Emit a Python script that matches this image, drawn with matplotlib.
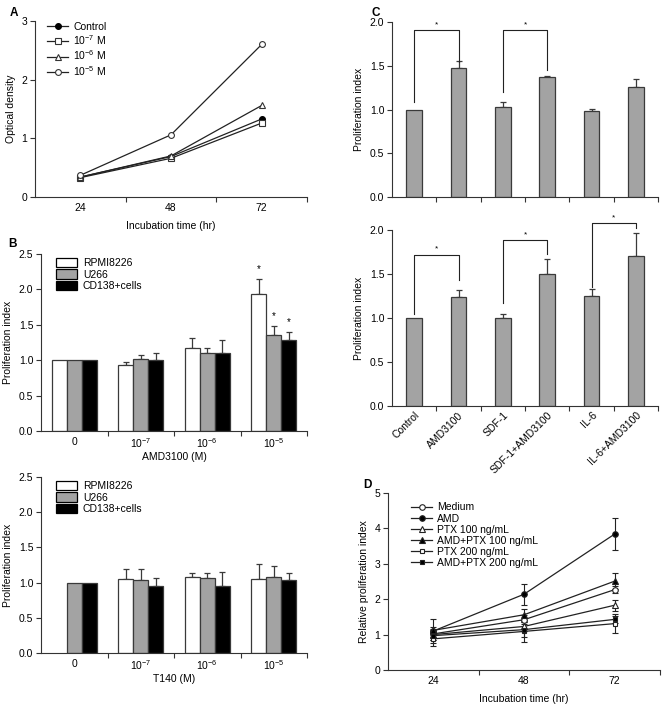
import matplotlib
matplotlib.use("Agg")
import matplotlib.pyplot as plt
import numpy as np
from matplotlib.lines import Line2D
from matplotlib.patches import Patch

plt.rcParams['font.family'] = ['Liberation Sans', 'DejaVu Sans']
plt.rcParams['mathtext.fontset'] = 'custom'
plt.rcParams['mathtext.rm'] = 'Liberation Sans'
plt.rcParams['mathtext.it'] = 'Liberation Sans:italic'
plt.rcParams['mathtext.bf'] = 'Liberation Sans:bold'
plt.rcParams['font.size'] = 7.5

# ---------------- data ----------------
# Panel A
a_times = ['24', '48', '72']
a_labels = ['Control', r'10$^{-7}$ M', r'10$^{-6}$ M', r'10$^{-5}$ M']
a_control = [0.34, 0.69, 1.33]
a_e7 = [0.33, 0.66, 1.26]
a_e6 = [0.34, 0.70, 1.56]
a_e5 = [0.37, 1.06, 2.60]

# Panel B (AMD3100)
b_conc = ['0', r'10$^{-7}$', r'10$^{-6}$', r'10$^{-5}$']
b_series = ['RPMI8226', 'U266', 'CD138+cells']
b_rpmi = [1.00, 0.93, 1.17, 1.94]
b_rpmi_err = [0.0, 0.05, 0.14, 0.21]
b_u266 = [1.00, 1.02, 1.10, 1.35]
b_u266_err = [0.0, 0.05, 0.07, 0.13]
b_cd138 = [1.00, 1.00, 1.10, 1.29]
b_cd138_err = [0.0, 0.10, 0.19, 0.11]
b_sig = [False, False, False, True]

# Panel B lower (T140)
t_rpmi = [np.nan, 1.05, 1.08, 1.05]
t_rpmi_err = [0.0, 0.14, 0.06, 0.21]
t_u266 = [1.00, 1.04, 1.07, 1.08]
t_u266_err = [0.0, 0.15, 0.06, 0.15]
t_cd138 = [1.00, 0.95, 0.95, 1.03]
t_cd138_err = [0.0, 0.11, 0.20, 0.10]

# Panel C
c_cats = ['Control', 'AMD3100', 'SDF-1', 'SDF-1+AMD3100', 'IL-6', 'IL-6+AMD3100']
c1_vals = [1.00, 1.48, 1.03, 1.37, 0.98, 1.26]
c1_err = [0.0, 0.08, 0.06, 0.015, 0.03, 0.09]
c1_brackets = [(0, 1, 1.91, 1.09, 1.54), (2, 3, 1.91, 1.20, 1.45)]
c2_vals = [1.00, 1.24, 1.00, 1.50, 1.25, 1.71]
c2_err = [0.0, 0.08, 0.05, 0.17, 0.08, 0.26]
c2_brackets = [(0, 1, 1.72, 1.05, 1.43), (2, 3, 1.89, 1.17, 1.73), (4, 5, 2.08, 1.35, 2.02)]

# Panel D
d_times = ['24', '48', '72']
d_labels = ['Medium', 'AMD', 'PTX 100 ng/mL', 'AMD+PTX 100 ng/mL', 'PTX 200 ng/mL', 'AMD+PTX 200 ng/mL']
d_medium = [1.02, 1.42, 2.27]
d_medium_err = [0.10, 0.12, 0.10]
d_amd = [1.10, 2.14, 3.84]
d_amd_err = [0.33, 0.29, 0.44]
d_ptx100 = [1.00, 1.23, 1.83]
d_ptx100_err = [0.15, 0.12, 0.16]
d_amdptx100 = [1.12, 1.56, 2.51]
d_amdptx100_err = [0.10, 0.16, 0.23]
d_ptx200 = [0.88, 1.09, 1.31]
d_ptx200_err = [0.20, 0.30, 0.26]
d_amdptx200 = [0.97, 1.14, 1.43]
d_amdptx200_err = [0.12, 0.22, 0.10]

# ---------------- layout ----------------
W, H = 665, 706
fig = plt.figure(figsize=(W / 100, H / 100), dpi=100)

def add_ax(l, r, t, b):
    return fig.add_axes([l / W, 1 - b / H, (r - l) / W, (b - t) / H])

SP = '#333333'
EDGE = '#3a3a3a'
GRAY = '#a3a3a3'

def style(ax, n):
    for s in ['top', 'right']:
        ax.spines[s].set_visible(False)
    for s in ['left', 'bottom']:
        ax.spines[s].set_color(SP)
        ax.spines[s].set_linewidth(0.8)
    ax.set_xlim(-0.5, n - 0.5)
    ax.set_xticks(np.arange(n) + 0.5)
    ax.set_xticklabels([])
    ax.tick_params(axis='x', which='major', length=3.5, width=0.8, color=SP, direction='out')
    ax.tick_params(axis='y', length=3.5, width=0.8, color=SP, direction='out', labelsize=7.5, pad=2)
    ax.set_xticks(np.arange(n), minor=True)
    ax.tick_params(axis='x', which='minor', length=0, labelsize=7.5, pad=4)

# Panel A
axA = add_ax(35, 307, 21, 197)
style(axA, 3)
x = np.arange(3)
kw = dict(color='#222222', lw=0.9, markersize=4.2, markeredgewidth=0.8)
axA.plot(x, a_control, marker='o', mfc='black', mec='black', **kw)
axA.plot(x, a_e7, marker='s', mfc='white', mec='#333333', **dict(kw, markersize=3.8))
axA.plot(x, a_e6, marker='^', mfc='white', mec='#333333', **kw)
axA.plot(x, a_e5, marker='o', mfc='white', mec='#333333', **kw)
axA.set_ylim(0, 3)
axA.set_yticks([0, 1, 2, 3])
axA.set_xticklabels(a_times, minor=True)
axA.set_ylabel('Optical density', fontsize=7.5, labelpad=4)
axA.set_xlabel('Incubation time (hr)', fontsize=7.5, labelpad=6)
handles = [Line2D([], [], marker='o', mfc='black', mec='black', **kw),
           Line2D([], [], marker='s', mfc='white', mec='#333333', **dict(kw, markersize=3.8)),
           Line2D([], [], marker='^', mfc='white', mec='#333333', **kw),
           Line2D([], [], marker='o', mfc='white', mec='#333333', **kw)]
axA.legend(handles, a_labels, loc='upper left', bbox_to_anchor=(0.03, 1.02), frameon=False,
           fontsize=7.5, handlelength=2.0, handletextpad=0.5, labelspacing=0.15, borderaxespad=0)

# Panel B bar helper
def bar_panel(ax, r, re, u, ue, c, ce, xlabel, sig=None):
    style(ax, 4)
    xs = np.arange(4)
    w = 0.227
    ekw = dict(ecolor=EDGE, elinewidth=0.9, capsize=2.5, capthick=0.9)
    for off, vals, errs, col in [(-w, r, re, 'white'), (0, u, ue, GRAY), (w, c, ce, 'black')]:
        vals = np.array(vals, dtype=float)
        errs = np.array(errs, dtype=float)
        ok = ~np.isnan(vals)
        ax.bar(xs[ok] + off, vals[ok], width=w, color=col, edgecolor=EDGE, linewidth=0.9, zorder=2)
        has = ok & (errs > 0)
        ax.errorbar(xs[has] + off, vals[has], yerr=[np.zeros(has.sum()), errs[has]], fmt='none', zorder=1, **ekw)
        if sig is not None:
            for i in range(4):
                if sig[i]:
                    ax.text(xs[i] + off, vals[i] + errs[i] + 0.07, '*', ha='center', va='bottom', fontsize=7)
    ax.set_ylim(0, 2.5)
    ax.set_yticks([0, 0.5, 1.0, 1.5, 2.0, 2.5])
    ax.set_yticklabels(['0.0', '0.5', '1.0', '1.5', '2.0', '2.5'])
    ax.set_xticklabels(b_conc, minor=True)
    ax.set_ylabel('Proliferation index', fontsize=7.5, labelpad=4)
    ax.set_xlabel(xlabel, fontsize=7.5, labelpad=1)
    hs = [Patch(facecolor=cc, edgecolor='black', linewidth=0.9) for cc in ['white', GRAY, 'black']]
    ax.legend(hs, b_series, loc='upper left', bbox_to_anchor=(0.04, 1.0), frameon=False, fontsize=7.5,
              handlelength=2.0, handleheight=1.0, handletextpad=0.6, labelspacing=0.1, borderaxespad=0)

axB1 = add_ax(41, 307, 254, 431)
bar_panel(axB1, b_rpmi, b_rpmi_err, b_u266, b_u266_err, b_cd138, b_cd138_err, 'AMD3100 (M)', sig=b_sig)
axB2 = add_ax(41, 307, 477, 653)
bar_panel(axB2, t_rpmi, t_rpmi_err, t_u266, t_u266_err, t_cd138, t_cd138_err, 'T140 (M)')

# Panel C
def c_panel(ax, vals, errs, brackets, labels):
    style(ax, 6)
    xs = np.arange(6)
    errs = np.array(errs)
    ax.bar(xs, vals, width=0.35, color=GRAY, edgecolor=EDGE, linewidth=0.9, zorder=2)
    has = errs > 0
    ax.errorbar(xs[has], np.array(vals)[has], yerr=[np.zeros(has.sum()), errs[has]], fmt='none',
                ecolor=EDGE, elinewidth=0.9, capsize=2.5, capthick=0.9, zorder=1)
    for i, j, top, lb, rb in brackets:
        ax.plot([i, i, j, j], [lb, top, top, rb], color='#222222', lw=0.8, clip_on=False)
        ax.text((i + j) / 2, top + 0.02, '*', ha='center', va='bottom', fontsize=6)
    ax.set_ylim(0, 2.0)
    ax.set_yticks([0, 0.5, 1.0, 1.5, 2.0])
    ax.set_yticklabels(['0.0', '0.5', '1.0', '1.5', '2.0'])
    ax.set_ylabel('Proliferation index', fontsize=7.5, labelpad=4)
    if labels:
        ax.set_xticklabels(c_cats, minor=True, rotation=45, ha='right', rotation_mode='anchor')
        ax.tick_params(axis='x', which='minor', pad=3)

axC1 = add_ax(392, 658, 22, 197)
c_panel(axC1, c1_vals, c1_err, c1_brackets, False)
axC2 = add_ax(392, 658, 230, 406)
c_panel(axC2, c2_vals, c2_err, c2_brackets, True)

# Panel D
axD = add_ax(388, 660, 493, 670)
style(axD, 3)
x = np.arange(3)
dkw = dict(color='#222222', lw=0.9, markersize=4.0, markeredgewidth=0.8,
           ecolor='#222222', elinewidth=0.8, capsize=2.5, capthick=0.8)
series = [(d_medium, d_medium_err, 'o', 'white'),
          (d_amd, d_amd_err, 'o', 'black'),
          (d_ptx100, d_ptx100_err, '^', 'white'),
          (d_amdptx100, d_amdptx100_err, '^', 'black'),
          (d_ptx200, d_ptx200_err, 's', 'white'),
          (d_amdptx200, d_amdptx200_err, 's', 'black')]
hs = []
for vals, errs, m, fc in series:
    ms = 3.5 if m == 's' else 4.0
    axD.errorbar(x, vals, yerr=errs, marker=m, mfc=fc, mec='#222222', **dict(dkw, markersize=ms))
    hs.append(Line2D([], [], marker=m, mfc=fc, mec='#222222', color='#222222', lw=0.9,
                     markersize=ms, markeredgewidth=0.8))
axD.set_ylim(0, 5)
axD.set_yticks([0, 1, 2, 3, 4, 5])
axD.set_xticklabels(d_times, minor=True)
axD.set_ylabel('Relative proliferation index', fontsize=7.5, labelpad=4)
axD.set_xlabel('Incubation time (hr)', fontsize=7.5, labelpad=6)
axD.legend(hs, d_labels, loc='upper left', bbox_to_anchor=(0.07, 0.97), frameon=False, fontsize=7.5,
           handlelength=2.0, handletextpad=0.5, labelspacing=0.1, borderaxespad=0)

# Panel letters
for lab, px, py in [('A', 10, 13), ('B', 8, 244), ('C', 372, 13), ('D', 363, 485)]:
    fig.text(px / W, 1 - py / H, lab, fontsize=8.5, fontweight='bold', ha='left', va='center')

fig.savefig('out.png', dpi=100)
